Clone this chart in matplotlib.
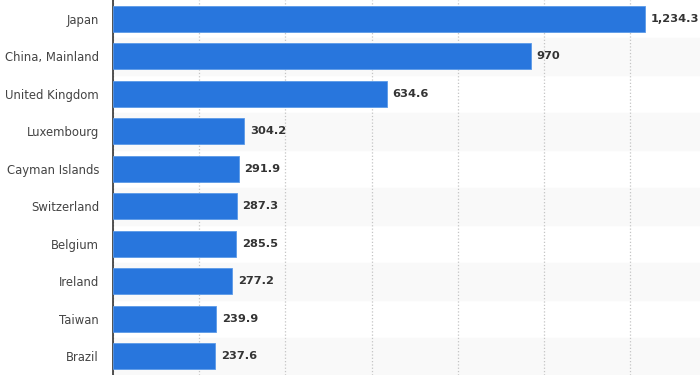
import matplotlib.pyplot as plt
from matplotlib.ticker import MultipleLocator

countries = ['Japan', 'China, Mainland', 'United Kingdom', 'Luxembourg', 'Cayman Islands',
             'Switzerland', 'Belgium', 'Ireland', 'Taiwan', 'Brazil']
values = [1234.3, 970, 634.6, 304.2, 291.9, 287.3, 285.5, 277.2, 239.9, 237.6]
value_labels = ['1,234.3', '970', '634.6', '304.2', '291.9', '287.3', '285.5', '277.2', '239.9', '237.6']

fig = plt.figure(figsize=(7, 3.75), dpi=100)
ax = fig.add_axes([113/700, 0, 587/700, 1])

ypos = list(range(len(countries)))

# striped rows
for i in ypos:
    if i % 2 == 1:
        ax.axhspan(i - 0.5, i + 0.5, color='#f9f9f9', zorder=0)

ax.barh(ypos, values, height=0.7, color='#2876dd', edgecolor='#5b9ae8', linewidth=0.6, zorder=3)

for y, v, lab in zip(ypos, values, value_labels):
    ax.text(v + 13, y, lab, va='center', ha='left', fontsize=8.2, fontweight='bold',
            color='#333333', zorder=4)

ax.set_xlim(0, 1362)
ax.set_ylim(len(countries) - 0.5, -0.5)
ax.xaxis.set_major_locator(MultipleLocator(200))
ax.grid(axis='x', linestyle=':', color='#c4c4c4', linewidth=0.9, zorder=1)
ax.set_axisbelow(True)
ax.tick_params(axis='x', length=0, labelbottom=False)
ax.tick_params(axis='y', length=0, pad=10, labelsize=8.4, labelcolor='#444444')
ax.set_yticks(ypos)
ax.set_yticklabels(countries)

for s in ['top', 'right', 'bottom']:
    ax.spines[s].set_visible(False)
ax.spines['left'].set_color('#333333')
ax.spines['left'].set_linewidth(1.2)

fig.savefig('out.png', dpi=100)
